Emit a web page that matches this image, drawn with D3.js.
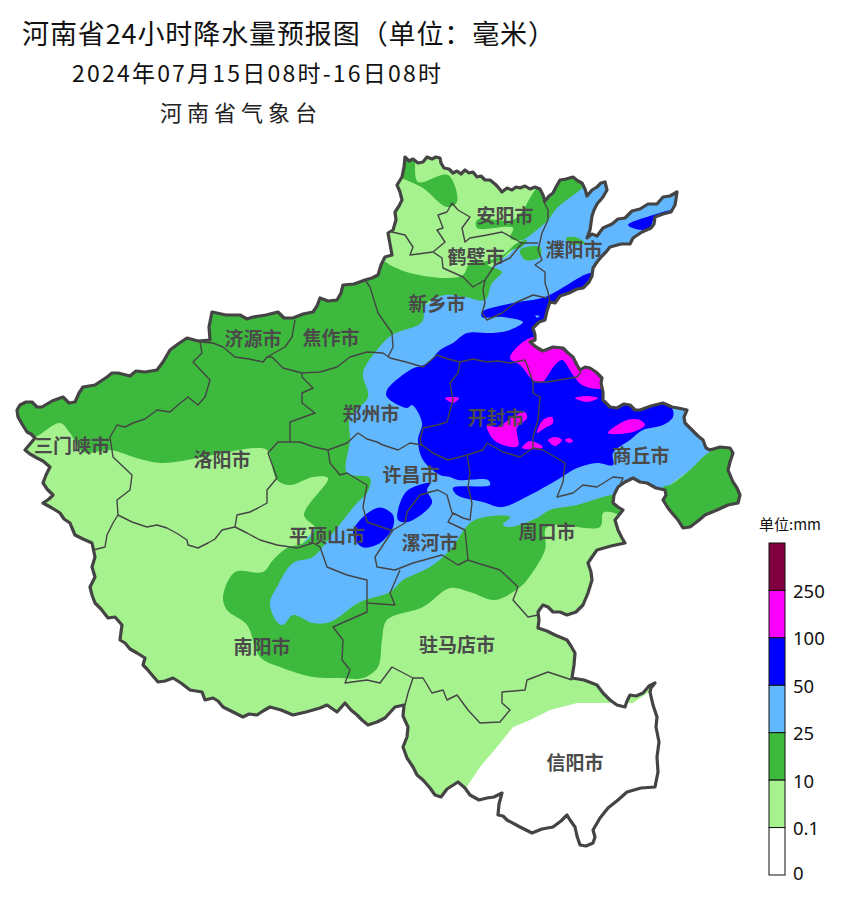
<!DOCTYPE html>
<html>
<head>
<meta charset="utf-8">
<script src="https://cdn.jsdelivr.net/npm/d3@7"></script>
<style>
  html, body { margin: 0; background: #fff; }
  text { text-spacing-trim: space-all; }
</style>
</head>
<body>
<div id="chart"></div>
<script>
// map grid units: easting, northing, both
var provinceOutline = [[405,743],[409,739],[413,741],[418,737],[423,738],[427,743],[432,741],[436,743],[440,742],[441,737],[444,732],[449,731],[453,727],[457,729],[461,726],[465,730],[469,727],[473,728],[477,723],[481,724],[485,720],[490,720],[495,716],[498,713],[502,708],[507,712],[512,710],[516,713],[520,712],[525,714],[530,711],[535,713],[540,711],[543,705],[545,699],[549,704],[553,707],[556,713],[560,720],[566,721],[573,723],[578,719],[582,717],[585,711],[587,704],[592,710],[597,713],[601,717],[605,718],[607,710],[603,703],[597,696],[594,690],[592,684],[591,677],[590,670],[587,662],[592,666],[597,664],[603,672],[612,676],[618,681],[625,682],[632,689],[640,691],[648,696],[657,696],[663,703],[670,704],[677,708],[676,701],[675,695],[671,688],[663,686],[655,683],[654,676],[651,672],[642,668],[633,662],[630,656],[621,656],[610,653],[606,648],[602,644],[597,638],[593,632],[592,624],[589,618],[583,612],[577,611],[569,607],[560,604],[555,597],[550,598],[547,589],[545,580],[539,578],[533,572],[535,565],[535,560],[530,558],[536,553],[543,549],[553,553],[563,552],[568,547],[573,543],[577,535],[580,530],[585,533],[590,532],[596,528],[602,522],[601,517],[603,508],[603,500],[610,493],[617,492],[624,496],[630,495],[635,490],[640,490],[651,494],[663,497],[672,493],[678,492],[687,490],[684,483],[685,477],[692,470],[698,464],[703,460],[706,452],[710,450],[720,453],[730,452],[733,447],[730,438],[728,430],[733,418],[737,412],[740,405],[738,397],[728,395],[717,390],[705,385],[698,379],[690,373],[683,372],[678,380],[672,387],[668,392],[663,400],[666,405],[665,410],[656,412],[647,417],[640,418],[633,422],[625,418],[618,413],[614,405],[613,397],[618,393],[623,390],[619,385],[615,380],[618,370],[622,362],[625,357],[611,354],[597,350],[592,343],[588,337],[591,328],[592,320],[588,307],[583,295],[576,288],[567,285],[560,288],[553,288],[548,293],[543,295],[540,291],[538,288],[539,280],[538,272],[547,269],[555,265],[567,260],[571,254],[575,247],[574,235],[572,222],[584,220],[597,215],[603,207],[610,200],[617,195],[625,193],[627,199],[630,205],[636,204],[643,207],[649,214],[655,217],[651,212],[650,208],[653,195],[657,183],[656,173],[659,158],[657,143],[658,128],[655,113],[641,112],[627,108],[618,100],[608,92],[600,82],[593,70],[595,63],[593,57],[586,54],[580,55],[577,64],[575,73],[570,80],[567,85],[561,79],[553,73],[542,71],[532,67],[520,73],[507,80],[503,84],[498,85],[499,96],[502,107],[494,103],[487,102],[479,100],[470,105],[465,112],[458,118],[447,111],[441,103],[435,105],[430,112],[423,120],[417,125],[413,133],[407,142],[403,153],[407,163],[408,173],[403,184],[404,195],[395,193],[385,182],[377,178],[368,175],[362,180],[357,185],[351,190],[345,197],[337,188],[327,195],[320,192],[306,188],[293,185],[281,190],[270,193],[263,189],[257,185],[249,186],[243,183],[233,188],[223,193],[218,199],[213,202],[205,200],[202,208],[190,210],[181,217],[173,222],[165,219],[158,218],[152,225],[147,231],[143,235],[145,242],[137,247],[130,251],[125,257],[120,260],[121,268],[122,275],[115,283],[108,282],[101,291],[95,297],[92,305],[90,313],[95,323],[92,333],[95,343],[92,357],[83,361],[75,365],[72,372],[70,377],[64,381],[60,387],[52,392],[43,397],[49,401],[53,405],[47,411],[43,417],[46,425],[50,433],[43,439],[37,442],[30,446],[25,450],[30,456],[35,462],[31,466],[27,468],[22,476],[18,483],[17,490],[20,495],[26,498],[32,498],[37,493],[42,493],[52,499],[63,503],[69,497],[75,498],[79,507],[83,513],[95,515],[107,523],[112,527],[118,527],[130,524],[136,529],[145,528],[157,530],[163,538],[170,550],[178,556],[187,562],[198,559],[210,560],[209,573],[212,588],[226,585],[240,585],[247,581],[253,583],[266,585],[278,588],[284,582],[293,582],[303,586],[313,588],[317,594],[320,602],[328,599],[337,600],[341,607],[343,615],[354,616],[365,620],[372,622],[378,625],[381,635],[385,643],[392,645],[390,656],[388,667],[393,670],[396,680],[395,688],[399,694],[402,700],[400,708],[397,715],[402,723],[404,733]];

var cityBorders = [
  [[200,558],[202,547],[193,538],[210,520],[205,503],[198,495],[188,503],[178,495],[170,488],[157,490],[145,481],[133,477],[125,473],[117,475],[110,463],[113,443],[132,425],[130,410],[117,400],[118,385],[113,377],[107,365],[105,353],[93,350]],
  [[118,385],[132,378],[147,373],[157,375],[167,372],[178,366],[187,360],[188,355],[198,352],[208,357],[215,361],[222,370],[235,373],[237,385],[250,388],[258,392],[267,397],[267,410],[277,422],[268,447],[278,458],[290,458],[300,458],[314,453],[328,450],[347,457],[358,467],[367,461],[377,458],[383,455],[398,450],[410,457],[422,455]],
  [[290,458],[290,478],[315,487],[302,497],[302,507],[313,512],[302,523],[302,527]],
  [[200,558],[213,557],[223,553],[235,543],[249,541],[263,538],[267,543],[285,553],[292,563],[295,580]],
  [[267,543],[272,543],[283,532],[302,527],[320,528],[337,533],[350,543],[367,548],[383,547],[390,542],[406,538],[423,533],[437,545],[448,541],[460,538],[473,541],[487,538],[498,539],[510,537],[525,540],[527,535],[533,518],[533,507],[540,503],[538,480],[533,463],[533,452],[520,443],[503,448],[487,457],[483,450],[467,445],[448,440],[433,447],[422,455]],
  [[460,538],[458,527],[450,517],[453,500],[447,478],[437,475],[423,472],[420,460],[422,455]],
  [[533,518],[547,518],[577,523],[581,528]],
  [[533,452],[543,450],[565,437],[563,418],[557,403],[573,407],[583,415],[597,413],[613,423],[623,422],[620,415]],
  [[365,620],[370,613],[378,587],[392,567],[393,553],[388,543]],
  [[392,668],[405,665],[413,653],[410,645],[433,648]],
  [[433,648],[442,642],[443,632],[463,623],[473,613],[485,620],[495,635],[510,642],[522,657],[513,662],[502,668],[487,665],[470,662],[465,658],[462,672],[470,683],[458,690],[452,697],[447,688],[438,685],[443,672],[437,670],[445,658],[433,648]],
  [[543,700],[548,690],[548,680],[542,667],[538,650],[542,640],[535,635],[545,628],[545,617],[548,608],[550,597]],
  [[522,657],[538,657]],
  [[485,620],[483,610],[485,597],[482,587],[487,580],[502,587],[515,597],[533,605],[547,602]],
  [[467,445],[470,427],[468,413],[472,397],[470,380],[463,382],[453,387],[448,378],[465,370],[468,340],[458,335],[442,345],[413,337],[395,330],[377,333],[375,343],[393,370],[405,377],[407,388],[420,405],[430,408],[438,410],[447,405],[452,387]],
  [[328,450],[330,437],[340,425],[347,427],[367,415],[363,393],[367,378],[390,370],[393,370]],
  [[235,373],[247,367],[260,360],[277,355],[297,352],[313,357],[320,353],[327,333],[347,325],[367,320],[367,297],[395,295],[390,307],[400,330]],
  [[367,297],[367,288],[333,273],[343,260],[342,240],[350,230],[345,217],[367,220],[380,217],[392,233],[413,222],[423,222],[432,207],[443,210],[447,200],[457,205],[468,190],[480,177],[500,178],[510,190],[502,197],[502,208],[525,210],[527,220],[548,228],[572,220]],
  [[413,222],[408,207],[405,195]],
  [[468,340],[477,337],[500,330],[518,313],[513,300],[528,283],[538,285]]
];

// rain areas, one list per colour band
var areas01 = [provinceOutline];
var areas0 = [[[466,112],[480,133],[497,153],[513,173],[530,180],[550,190],[577,197],[607,197],[633,197],[640,202],[675,225],[680,40],[450,40]]];
var areas25 = [
  [[620,750],[700,740],[760,500],[710,448],[690,430],[670,415],[640,400],[613,405],[560,380],[470,360],[400,310],[300,260],[270,280],[265,310],[330,390],[340,460],[360,530],[400,580],[450,610],[480,625],[508,645],[533,672],[557,697],[580,715]]
];
var areas10 = [
  [[5,455],[5,600],[385,638],[390,635],[410,627],[445,622],[463,625],[470,637],[483,638],[503,645],[517,657],[527,660],[522,653],[512,650],[500,640],[488,635],[502,628],[492,617],[485,600],[465,603],[445,605],[425,595],[422,578],[392,565],[377,550],[363,527],[368,503],[350,483],[350,460],[347,427],[370,422],[367,407],[357,397],[333,367],[313,343],[293,337],[277,313],[270,297],[277,278],[283,275],[293,285],[313,277],[330,278],[360,298],[390,308],[403,320],[430,333],[450,350],[470,377],[485,383],[510,383],[503,375],[510,373],[537,382],[550,390],[577,395],[603,403],[613,405],[630,400],[625,385],[610,388],[603,387],[600,373],[547,373],[545,350],[527,320],[520,313],[495,300],[470,308],[450,312],[423,293],[387,280],[382,260],[378,233],[363,222],[340,222],[313,223],[280,233],[260,243],[247,275],[227,290],[223,303],[235,328],[263,328],[273,340],[287,352],[305,358],[315,372],[304,385],[328,422],[313,423],[290,415],[277,420],[267,450],[255,452],[213,445],[163,437],[140,441],[110,450],[83,448],[70,467],[60,477],[35,463]],
  [[710,448],[690,430],[670,415],[663,413],[650,360],[760,360],[760,460]],
  [[395,750],[415,745],[415,737],[418,718],[448,725],[457,698],[447,693],[423,712],[395,728]],
  [[477,680],[513,680],[522,688],[530,702],[540,715],[580,730],[590,720],[580,710],[557,692],[548,680],[533,667],[522,660],[510,662],[513,672],[477,672]],
  [[520,650],[540,653],[540,643],[525,640]],
  [[566,662],[575,663],[585,657],[570,656]]
];
var areas50 = [
  [[467,567],[493,567],[510,570],[523,578],[503,583],[482,583],[482,588],[513,597],[545,603],[590,627],[600,625],[590,600],[560,580],[545,555],[600,530],[640,505],[663,500],[672,492],[673,483],[663,475],[643,470],[630,460],[613,447],[613,435],[597,437],[577,432],[557,420],[530,405],[502,393],[483,398],[457,405],[453,412],[490,415],[488,420],[458,420],[450,423],[440,425],[423,440],[418,460],[422,477],[412,495],[407,492],[387,503],[387,510],[410,530],[428,537],[440,550],[453,557]],
  [[430,417],[408,410],[400,397],[398,380],[408,378],[432,397],[427,410]],
  [[377,392],[363,383],[353,368],[362,353],[380,357],[393,373],[393,385],[383,392]],
  [[628,675],[653,685],[672,690],[668,687],[655,683],[650,673],[642,670]]
];
var holes25 = [[[535,585],[540,584],[537,582]]];
var areas100 = [
  [[530,562],[510,542],[520,535],[533,520],[542,518],[555,535],[562,540],[573,525],[582,515],[603,512],[610,525],[590,540],[565,560]],
  [[575,502],[587,504],[598,502],[587,498]],
  [[608,467],[627,480],[640,480],[645,475],[633,468]],
  [[445,502],[459,502],[453,497]],
  [[487,475],[497,473],[513,483],[525,488],[527,482],[517,472],[518,454],[503,455],[492,462]],
  [[537,467],[543,480],[552,483],[553,477],[545,472]],
  [[548,460],[555,463],[562,460],[555,454]],
  [[565,460],[569,462],[573,459],[569,457]],
  [[522,452],[530,459],[543,453],[537,451]]
];

var cityNames = ["安阳市","鹤壁市","濮阳市","新乡市","济源市","焦作市","郑州市","开封市","三门峡市","洛阳市","许昌市","商丘市","平顶山市","漯河市","周口市","南阳市","驻马店市","信阳市"];
var cityE = [505,476,574,437,253,331,371,496,72,222,411,641,327,430,547,262,457,575];
var cityN = [686,645,652,598,563,564,488,484,456,442,427,446,366,359,370,255,257,139];

var legendColors = ["#800040","#FA00FA","#0000FF","#61B8FF","#3DBA3D","#A6F28F","#FFFFFF"];
var legendLabels = ["250","100","50","25","10","0.1","0"];

var svg = d3.select("#chart").append("svg")
  .attr("width", 845)
  .attr("height", 915)
  .style("display", "block");

var x = d3.scaleLinear().domain([0, 845]).range([0, 845]);
var y = d3.scaleLinear().domain([0, 900]).range([900, 0]);

var straight = d3.line().x(d => x(d[0])).y(d => y(d[1]));
var smooth = d3.line().x(d => x(d[0])).y(d => y(d[1])).curve(d3.curveCatmullRomClosed.alpha(0.5));

svg.append("clipPath").attr("id", "henan")
  .append("path").attr("d", straight(provinceOutline) + "Z");

var rain = svg.append("g").attr("clip-path", "url(#henan)");

function drawAreas(list, color, line) {
  rain.append("g").selectAll("path").data(list).enter().append("path")
    .attr("d", d => line(d) + (line === straight ? "Z" : ""))
    .attr("fill", color);
}

drawAreas(areas01, "#A6F28F", straight);
drawAreas(areas0, "#FFFFFF", straight);
drawAreas(areas25, "#61B8FF", straight);
drawAreas(areas10, "#3DBA3D", smooth);
drawAreas(areas50, "#0000FF", smooth);
drawAreas(holes25, "#61B8FF", straight);
drawAreas(areas100, "#FA00FA", smooth);

svg.append("g").selectAll("path").data(cityBorders).enter().append("path")
  .attr("d", straight)
  .attr("fill", "none")
  .attr("stroke", "#444")
  .attr("stroke-width", 1.4)
  .attr("stroke-linejoin", "round");

svg.append("path")
  .attr("d", straight(provinceOutline) + "Z")
  .attr("fill", "none")
  .attr("stroke", "#444")
  .attr("stroke-width", 3.2)
  .attr("stroke-linejoin", "round");

svg.append("g").selectAll("text").data(cityNames).enter().append("text")
  .attr("x", (d, i) => x(cityE[i]))
  .attr("y", (d, i) => y(cityN[i]))
  .attr("text-anchor", "middle")
  .attr("dominant-baseline", "central")
  .attr("font-family", "'Noto Sans CJK SC'")
  .attr("font-weight", "bold")
  .attr("font-size", 19)
  .attr("fill", "#4a4a4a")
  .text(d => d);

// titles
var cjk = "'Noto Sans CJK SC'";
svg.append("text").attr("x", 22).attr("y", 44)
  .attr("font-family", cjk).attr("font-size", 27).attr("fill", "#111")
  .attr("textLength", 533).attr("lengthAdjust", "spacing")
  .text("河南省24小时降水量预报图（单位：毫米）");
svg.append("text").attr("x", 72).attr("y", 82)
  .attr("font-family", cjk).attr("font-size", 23).attr("fill", "#111")
  .attr("textLength", 369).attr("lengthAdjust", "spacing")
  .text("2024年07月15日08时-16日08时");
svg.append("text").attr("x", 160).attr("y", 121)
  .attr("font-family", cjk).attr("font-size", 22).attr("letter-spacing", 5).attr("fill", "#222")
  .text("河南省气象台");

// legend
var band = d3.scaleBand().domain(legendColors).range([543, 875]);
var legend = svg.append("g");
legend.selectAll("rect").data(legendColors).enter().append("rect")
  .attr("x", 769)
  .attr("y", d => band(d))
  .attr("width", 16)
  .attr("height", band.bandwidth())
  .attr("fill", d => d)
  .attr("stroke", "#111")
  .attr("stroke-width", 1);
legend.selectAll("text").data(legendLabels).enter().append("text")
  .attr("x", 793)
  .attr("y", (d, i) => band(legendColors[i]) + band.bandwidth() - (i == 6 ? 3 : 0))
  .attr("dominant-baseline", "central")
  .attr("font-family", "'Noto Sans'")
  .attr("font-size", 18.5)
  .attr("fill", "#111")
  .text(d => d);
svg.append("text").attr("x", 759).attr("y", 530)
  .attr("font-family", cjk).attr("font-size", 15).attr("fill", "#111")
  .text("单位:mm");
</script>
</body>
</html>
